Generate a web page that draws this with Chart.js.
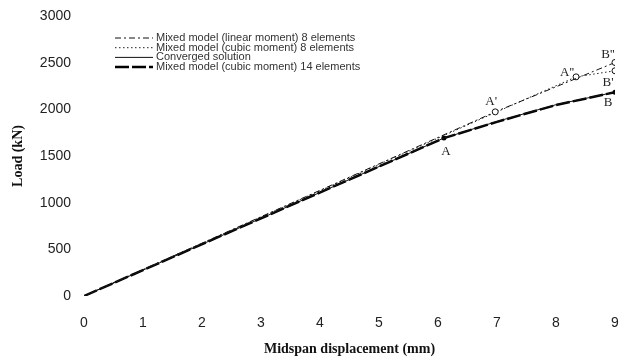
<!DOCTYPE html>
<html>
<head>
<meta charset="utf-8">
<title>Load vs midspan displacement</title>
<script src="https://cdn.jsdelivr.net/npm/chart.js@4/dist/chart.umd.min.js"></script>
<style>
  html, body { margin: 0; padding: 0; background: #fff; }
  #chart { display: block; }
</style>
</head>
<body>
<canvas id="chart" width="621" height="360"></canvas>
<script>
// displacement (mm) / load (kN) for each model
const dispLinear8 = [0, 6.97, 9.0];
const loadLinear8 = [0, 1973, 2502];

const dispCubic8 = [0, 6.97, 8.34, 9.0];
const loadCubic8 = [0, 1965, 2348, 2413];

const dispConverged = [0, 6.1, 7.0, 8.0, 9.0];
const loadConverged = [0, 1692, 1870, 2050, 2184];

const dispCubic14 = [0, 6.1, 7.0, 8.0, 9.0];
const loadCubic14 = [0, 1692, 1866, 2046, 2184];

const seriesNames = [
  'Mixed model (linear moment) 8 elements',
  'Mixed model (cubic moment) 8 elements',
  'Converged solution',
  'Mixed model (cubic moment) 14 elements'
];

const xTicks = [0, 1, 2, 3, 4, 5, 6, 7, 8, 9];
const yTicks = [0, 500, 1000, 1500, 2000, 2500, 3000];

// labelled points: [dataset, point index, text]
const pointTags = [
  [3, 1, 'A'],
  [0, 1, "A'"],
  [1, 2, "A''"],
  [0, 2, "B''"],
  [1, 3, "B'"],
  [3, 4, 'B']
];

const toXY = (xs, ys) => xs.map((x, i) => ({ x: x, y: ys[i] }));

// marker radius per point (0 = no marker)
const markLinear8 = [0, 3, 3];
const markCubic8 = [0, 0, 3, 3];
const markCubic14 = [0, 2.5, 0, 0, 2.5];

const tagOffsets = {
  'A': [2, 13], "A'": [-4, -10], "A''": [-9, -4],
  "B''": [-7, -8], "B'": [-7, 12], 'B': [-7, 10]
};

const sampleLegend = {
  id: 'sampleLegend',
  afterDatasetsDraw(chart) {
    const ctx = chart.ctx;
    ctx.save();
    chart.data.datasets.forEach((ds, i) => {
      const y = 38 + i * 9.7;
      ctx.beginPath();
      ctx.setLineDash(ds.borderDash || []);
      ctx.lineWidth = ds.borderWidth;
      ctx.strokeStyle = ds.borderColor;
      ctx.moveTo(115, y);
      ctx.lineTo(153, y);
      ctx.stroke();
      ctx.setLineDash([]);
      ctx.fillStyle = '#333';
      ctx.font = '11px "Liberation Sans", Arial, sans-serif';
      ctx.textBaseline = 'middle';
      ctx.fillText(ds.label, 156, y);
    });
    ctx.restore();
  }
};

const pointLetters = {
  id: 'pointLetters',
  afterDatasetsDraw(chart) {
    const ctx = chart.ctx;
    ctx.save();
    ctx.fillStyle = '#222';
    ctx.font = '13px "Liberation Serif", "Times New Roman", serif';
    ctx.textAlign = 'center';
    ctx.textBaseline = 'middle';
    pointTags.forEach(([d, j, text]) => {
      const pt = chart.getDatasetMeta(d).data[j];
      const off = tagOffsets[text];
      ctx.fillText(text, pt.x + off[0], pt.y + off[1]);
    });
    ctx.restore();
  }
};

const tickFont = { family: '"Liberation Sans", Arial, sans-serif', size: 14 };
const titleFont = { family: '"Liberation Serif", "Times New Roman", serif', size: 14, weight: 'bold' };

new Chart(document.getElementById('chart'), {
  type: 'line',
  data: {
    datasets: [
      {
        label: seriesNames[0],
        data: toXY(dispLinear8, loadLinear8),
        borderColor: '#111',
        borderWidth: 1,
        borderDash: [6, 3, 2, 3],
        pointRadius: markLinear8,
        pointBackgroundColor: '#fff',
        pointBorderColor: '#111',
        pointBorderWidth: 1
      },
      {
        label: seriesNames[1],
        data: toXY(dispCubic8, loadCubic8),
        borderColor: '#222',
        borderWidth: 1,
        borderDash: [1.5, 2.5],
        pointRadius: markCubic8,
        pointBackgroundColor: '#fff',
        pointBorderColor: '#111',
        pointBorderWidth: 1
      },
      {
        label: seriesNames[2],
        data: toXY(dispConverged, loadConverged),
        borderColor: '#111',
        borderWidth: 1,
        pointRadius: 0
      },
      {
        label: seriesNames[3],
        data: toXY(dispCubic14, loadCubic14),
        borderColor: '#000',
        borderWidth: 2.5,
        borderDash: [14, 3],
        pointRadius: markCubic14,
        pointBackgroundColor: '#000',
        pointBorderColor: '#000',
        pointBorderWidth: 0
      }
    ]
  },
  options: {
    responsive: false,
    animation: false,
    devicePixelRatio: 1,
    layout: { padding: { top: 16, right: 6, bottom: 0, left: 0 } },
    plugins: {
      legend: { display: false },
      tooltip: { enabled: false }
    },
    scales: {
      x: {
        type: 'linear',
        min: 0,
        max: 9,
        afterBuildTicks: (scale) => { scale.ticks = xTicks.map(v => ({ value: v })); },
        afterFit: (scale) => { scale.height = 64; },
        border: { display: false },
        grid: { display: false, drawTicks: true, tickLength: 17 },
        ticks: {
          padding: 2,
          color: '#222',
          font: tickFont,
          callback: (v) => String(v)
        },
        title: {
          display: true,
          text: 'Midspan displacement (mm)',
          color: '#111',
          font: titleFont,
          padding: { top: 0, bottom: 2 }
        }
      },
      y: {
        min: 0,
        max: 3000,
        afterBuildTicks: (scale) => { scale.ticks = yTicks.map(v => ({ value: v })); },
        afterFit: (scale) => { scale.width = 84; },
        border: { display: false },
        grid: { display: false, drawTicks: true, tickLength: 11 },
        ticks: {
          padding: 2,
          color: '#222',
          font: tickFont,
          callback: (v) => String(v)
        },
        title: {
          display: true,
          text: 'Load (kN)',
          color: '#111',
          font: titleFont,
          padding: { top: 10, bottom: 0 }
        }
      }
    }
  },
  plugins: [sampleLegend, pointLetters]
});
</script>
</body>
</html>
